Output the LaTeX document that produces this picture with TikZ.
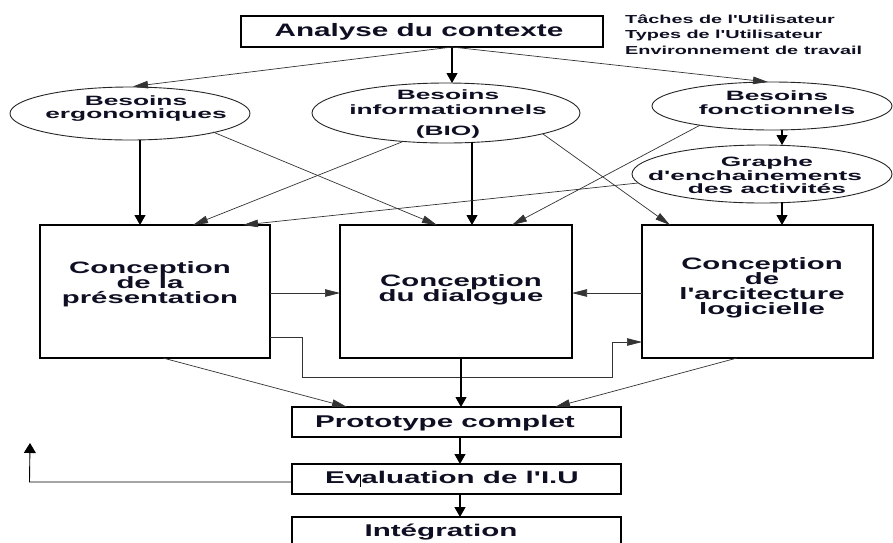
\documentclass[tikz,border=0pt]{standalone}
\usepackage{fontspec}
\setmainfont{Liberation Sans}
% Wide sans faces used by the different kinds of labels
\newfontfamily\titlefont{Liberation Sans}[FakeStretch=1.65]
\newfontfamily\notefont{Liberation Sans}[FakeStretch=1.71]
\newfontfamily\ellfont{Liberation Sans}[FakeStretch=1.95]
\newfontfamily\boxfont{Liberation Sans}[FakeStretch=1.78]
\newfontfamily\stepfont{Liberation Sans}[FakeStretch=1.74]
\usetikzlibrary{arrows.meta,shapes.geometric}
\definecolor{ink}{RGB}{15,15,35}

\begin{document}
\begin{tikzpicture}[x=1pt,y=-1pt,
  box/.style={draw=black, line width=2.5pt, inner sep=0pt},
  stepbox/.style={draw=black, line width=2.2pt, inner sep=0pt, minimum width=329pt, minimum height=30pt},
  ell/.style={ellipse, draw=black!85, line width=0.9pt, inner sep=0pt},
  arr/.style={-{Triangle[length=10pt,width=11pt]}, line width=1.1pt},
  link/.style={-{Triangle[length=15pt,width=7.5pt]}, line width=0.7pt, draw=black!80},
  plain/.style={line width=0.9pt},
  titletxt/.style={font=\titlefont\bfseries\fontsize{18}{18}\selectfont, anchor=base, inner sep=0pt, text=ink},
  notetxt/.style={font=\notefont\bfseries\fontsize{11.6}{12}\selectfont, anchor=base west, inner sep=0pt, text=ink},
  elltxt/.style={font=\ellfont\bfseries\fontsize{13.5}{14}\selectfont, anchor=base, inner sep=0pt, text=ink},
  boxtxt/.style={font=\boxfont\bfseries\fontsize{16.5}{17}\selectfont, anchor=base, inner sep=0pt, text=ink},
  steptxt/.style={font=\stepfont\bfseries\fontsize{17}{17}\selectfont, anchor=base, inner sep=0pt, text=ink}
]
\useasboundingbox (0,0) rectangle (893,542);
\fill[white] (0,0) rectangle (893,542);

% ---- shapes ----
\node[box, minimum width=362pt, minimum height=31pt] (ana) at (422,31.5) {};
\node[ell, minimum width=240pt, minimum height=53pt] (be) at (130,113.5) {};
\node[ell, minimum width=268pt, minimum height=60pt] (bio) at (446,113) {};
\node[ell, minimum width=240pt, minimum height=48pt] (bf) at (772,106) {};
\node[ell, minimum width=260pt, minimum height=58pt] (gr) at (762,174) {};
\node[box, minimum width=230pt, minimum height=133pt] (p1) at (155,291.5) {};
\node[box, minimum width=232pt, minimum height=133pt] (dl) at (456,291.5) {};
\node[box, minimum width=231pt, minimum height=133pt] (ar) at (757.5,291.5) {};
\node[stepbox] (pr) at (456.5,422) {};
\node[stepbox] (ev) at (456.5,479) {};
\node[stepbox] (ig) at (456.5,532) {};

% ---- labels ----
\node[titletxt] (anat) at (419,36) {Analyse du contexte};
\node[notetxt] (n1) at (625,23.3) {Tâches de l'Utilisateur};
\node[notetxt] (n2) at (625,38) {Types de l'Utilisateur};
\node[notetxt] (n3) at (625,54) {Environnement de travail};

\node[elltxt] (bet1) at (136,105) {Besoins};
\node[elltxt] (bet2) at (136,118) {ergonomiques};
\node[elltxt] (biot1) at (448,99.3) {Besoins};
\node[elltxt] (biot2) at (448,114.3) {informationnels};
\node[elltxt] (biot3) at (448,135) {(BIO)};
\node[elltxt] (bft1) at (777,100) {Besoins};
\node[elltxt] (bft2) at (777,114.3) {fonctionnels};
\node[elltxt] (grt1) at (767,166) {Graphe};
\node[elltxt] (grt2) at (755,180.7) {d'enchainements};
\node[elltxt] (grt3) at (767,193.3) {des activités};

\node[boxtxt] (p1t1) at (150,273) {Conception};
\node[boxtxt] (p1t2) at (150,288) {de la};
\node[boxtxt] (p1t3) at (150,303) {présentation};
\node[boxtxt] (dlt1) at (461,286) {Conception};
\node[boxtxt] (dlt2) at (461,301) {du dialogue};
\node[boxtxt] (art1) at (762,269) {Conception};
\node[boxtxt] (art2) at (762,284) {de};
\node[boxtxt] (art3) at (762,299) {l'arcitecture};
\node[boxtxt] (art4) at (762,314) {logicielle};

\node[steptxt] (prt) at (445,427) {Prototype complet};
\node[steptxt] (evt) at (452,483) {Evaluation de l'I.U};
\node[steptxt] (igt) at (441,536) {Intégration};
% text cursor left in the label
\draw[line width=0.6pt] (360,475) -- (360,487);

% ---- connectors ----
\draw[link] ([shift={(30,15.5)}]ana.center) -- ([shift={(3,-27)}]be.center);
\draw[arr]  ([shift={(30,15.5)}]ana.center) -- ([shift={(6,-30)}]bio.center);
\draw[link] ([shift={(30,15.5)}]ana.center) -- ([shift={(-4,-24)}]bf.center);

\draw[arr]  ([shift={(10,26.5)}]be.center) -- ([shift={(-15,-66.5)}]p1.center);
\draw[link] ([shift={(83,18.5)}]be.center) -- ([shift={(-19,-66.5)}]dl.center);

\draw[link] ([shift={(-43,28.5)}]bio.center) -- ([shift={(38,-66.5)}]p1.center);
\draw[arr]  ([shift={(26,29.4)}]bio.center) -- ([shift={(16,-66.5)}]dl.center);
\draw[link] ([shift={(97,21)}]bio.center) -- ([shift={(-87.5,-66.5)}]ar.center);

\draw[arr]  ([shift={(10,24)}]bf.center) -- ([shift={(20,-29)}]gr.center);
\draw[link] ([shift={(-72,19.2)}]bf.center) -- ([shift={(56,-66.5)}]dl.center);

\draw[link] ([shift={(-124,9)}]gr.center) -- ([shift={(88,-66.5)}]p1.center);
\draw[arr]  ([shift={(20,28.3)}]gr.center) -- ([shift={(24.5,-66.5)}]ar.center);

\draw[link] ([shift={(115,1.5)}]p1.center) -- ([shift={(-116,1.5)}]dl.center);
\draw[link] ([shift={(-115.5,1.5)}]ar.center) -- ([shift={(116,1.5)}]dl.center);
\draw[link] ([shift={(115,45.5)}]p1.center) -- ++(32,0) -- ++(0,40) -- ++(310,0) -- ++(0,-35)
            -- ([shift={(-115.5,50.5)}]ar.center);

\draw[link] ([shift={(8,66.5)}]p1.center) -- ([shift={(-109.5,-15)}]pr.center);
\draw[arr]  ([shift={(5,66.5)}]dl.center) -- ([shift={(4.5,-15)}]pr.center);
\draw[link] ([shift={(-20.5,66.5)}]ar.center) -- ([shift={(98.5,-15)}]pr.center);

\draw[arr] ([shift={(3.5,15)}]pr.center) -- ([shift={(3.5,-15)}]ev.center);
\draw[arr] ([shift={(3.5,15)}]ev.center) -- ([shift={(3.5,-15)}]ig.center);

\coordinate (fb) at (30,443);
\draw[plain, -{Triangle[length=10pt,width=12pt]}] ([shift={(-164.5,3)}]ev.center) -- ++(-262.5,0) -- (fb);
\end{tikzpicture}
\end{document}
